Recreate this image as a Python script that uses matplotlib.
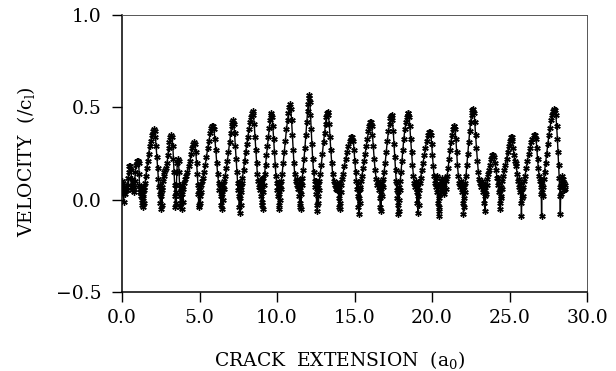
import matplotlib
matplotlib.use("Agg")
import matplotlib.pyplot as plt

# ---- data: crack extension (a0) vs velocity (/c_l) ----
seg00 = [(0.00,0.10),(0.02,0.07),(0.04,0.09),(0.06,0.03),(0.08,0.06),(0.10,-0.01),(0.13,0.04),(0.16,0.06),
         (0.20,0.03),(0.24,0.05),(0.28,0.07),(0.32,0.05),(0.36,0.08),(0.40,0.12),(0.44,0.15),(0.48,0.18),
         (0.53,0.18),(0.58,0.16),(0.62,0.11),(0.64,0.07),(0.66,0.05),(0.69,0.09),(0.72,0.06),(0.75,0.04),
         (0.78,0.07),(0.82,0.10),(0.86,0.15),(0.90,0.19),(0.95,0.21),(1.00,0.21),(1.05,0.21),(1.08,0.20),
         (1.10,0.14),(1.12,0.08),(1.14,0.04),(1.17,0.06),(1.20,0.02),(1.23,0.07),(1.26,0.00),(1.28,0.05),
         (1.30,-0.03),(1.32,0.06),(1.34,0.01),(1.36,-0.04),(1.38,0.03),(1.40,0.07),(1.42,-0.02),(1.45,0.05),
         (1.49,0.09),(1.54,0.13),(1.60,0.17),(1.66,0.21),(1.72,0.25),(1.79,0.29),(1.86,0.32),(1.93,0.35),
         (1.99,0.37),(2.05,0.38)]
seg01 = [(2.10,0.37),(2.15,0.34),(2.20,0.29),(2.25,0.23),(2.30,0.17),(2.35,0.11),(2.40,0.07),(2.44,0.03),
         (2.46,0.08),(2.48,-0.02),(2.50,0.04),(2.52,-0.05),(2.54,0.02),(2.56,0.07),(2.58,-0.03),(2.60,0.05),
         (2.63,0.10),(2.68,0.13),(2.74,0.15),(2.80,0.16),(2.86,0.17),(2.91,0.20),(2.96,0.24),(3.01,0.28),
         (3.06,0.31),(3.11,0.34),(3.18,0.35)]
seg02 = [(3.23,0.34),(3.28,0.29),(3.32,0.22),(3.36,0.15),(3.40,0.08),(3.43,0.02),(3.45,-0.04),(3.47,0.04),
         (3.49,-0.02),(3.51,0.08),(3.54,0.15),(3.57,0.20),(3.61,0.22),(3.65,0.21),(3.68,0.15),(3.71,0.08),
         (3.74,0.02),(3.77,-0.04),(3.80,0.05),(3.82,-0.02),(3.84,0.07),(3.86,-0.05),(3.88,0.03),(3.90,0.08),
         (3.92,-0.01),(3.95,0.06),(3.99,0.09),(4.06,0.11),(4.14,0.13),(4.22,0.15),(4.30,0.18),(4.38,0.21),
         (4.46,0.25),(4.53,0.28),(4.59,0.30),(4.65,0.31)]
seg03 = [(4.71,0.30),(4.76,0.26),(4.81,0.20),(4.86,0.14),(4.90,0.08),(4.93,0.03),(4.95,-0.03),(4.97,0.05),
         (4.99,-0.04),(5.01,0.02),(5.03,0.07),(5.05,-0.02),(5.07,0.04),(5.10,0.08),(5.15,0.10),(5.22,0.12),
         (5.29,0.15),(5.37,0.19),(5.45,0.23),(5.53,0.28),(5.61,0.32),(5.69,0.36),(5.76,0.39),(5.82,0.40),
         (5.87,0.40)]
seg04 = [(5.93,0.38),(5.99,0.33),(6.05,0.27),(6.11,0.20),(6.17,0.14),(6.23,0.09),(6.29,0.05),(6.33,0.08),
         (6.36,0.02),(6.39,-0.03),(6.42,0.05),(6.45,-0.05),(6.48,0.03),(6.50,0.08),(6.53,0.00),(6.56,0.06),
         (6.60,0.10),(6.66,0.13),(6.73,0.17),(6.80,0.21),(6.87,0.26),(6.94,0.31),(7.01,0.36),(7.07,0.40),
         (7.12,0.42),(7.16,0.43)]
seg05 = [(7.21,0.41),(7.26,0.36),(7.31,0.29),(7.36,0.22),(7.41,0.15),(7.46,0.09),(7.50,0.05),(7.53,0.09),
         (7.55,0.02),(7.57,-0.04),(7.59,0.05),(7.61,-0.07),(7.63,0.01),(7.65,0.07),(7.67,-0.03),(7.69,0.04),
         (7.72,0.09),(7.77,0.12),(7.84,0.16),(7.91,0.21),(7.98,0.26),(8.05,0.30),(8.12,0.34),(8.19,0.38),
         (8.26,0.42),(8.32,0.45),(8.38,0.47),(8.43,0.48)]
seg06 = [(8.48,0.46),(8.53,0.41),(8.58,0.34),(8.63,0.27),(8.68,0.20),(8.73,0.14),(8.78,0.10),(8.83,0.07),
         (8.88,0.09),(8.92,0.05),(8.95,0.10),(8.98,0.02),(9.00,-0.03),(9.02,0.06),(9.04,-0.01),(9.06,0.11),
         (9.08,-0.05),(9.10,0.04),(9.12,0.12),(9.15,0.08),(9.20,0.14),(9.26,0.19),(9.32,0.24),(9.38,0.29),
         (9.44,0.34),(9.50,0.39),(9.55,0.43),(9.59,0.46),(9.63,0.47)]
seg07 = [(9.68,0.45),(9.73,0.40),(9.78,0.33),(9.83,0.26),(9.88,0.19),(9.93,0.13),(9.98,0.09),(10.02,0.05),
         (10.05,0.09),(10.08,0.02),(10.10,-0.03),(10.12,0.06),(10.14,-0.05),(10.16,0.03),(10.18,0.08),
         (10.20,0.00),(10.23,0.06),(10.27,0.10),(10.33,0.14),(10.40,0.20),(10.47,0.26),(10.54,0.32),
         (10.61,0.38),(10.68,0.43),(10.74,0.47),(10.79,0.50),(10.84,0.52)]
seg08 = [(10.89,0.49),(10.94,0.43),(10.99,0.35),(11.04,0.27),(11.09,0.20),(11.14,0.14),(11.20,0.10),
         (11.26,0.08),(11.32,0.11),(11.37,0.06),(11.41,0.09),(11.44,0.02),(11.47,-0.04),(11.49,0.05),
         (11.51,-0.02),(11.53,0.10),(11.55,-0.05),(11.57,0.03),(11.60,0.08),(11.63,0.12),(11.68,0.16),
         (11.74,0.22),(11.80,0.28),(11.86,0.35),(11.92,0.42),(11.97,0.48),(12.01,0.52),(12.05,0.55),
         (12.08,0.565)]
seg09 = [(12.12,0.53),(12.16,0.46),(12.20,0.38),(12.25,0.30),(12.30,0.22),(12.36,0.15),(12.42,0.10),
         (12.47,0.07),(12.51,0.10),(12.54,0.03),(12.56,-0.03),(12.58,0.06),(12.60,-0.06),(12.62,0.02),
         (12.64,0.08),(12.66,-0.02),(12.69,0.05),(12.73,0.10),(12.79,0.14),(12.86,0.19),(12.93,0.25),
         (13.00,0.31),(13.07,0.36),(13.13,0.41),(13.18,0.45),(13.23,0.47),(13.27,0.475)]
seg10 = [(13.32,0.46),(13.37,0.41),(13.42,0.34),(13.47,0.27),(13.53,0.20),(13.59,0.14),(13.65,0.10),
         (13.72,0.08),(13.79,0.06),(13.85,0.09),(13.90,0.05),(13.94,0.08),(13.97,0.01),(14.00,-0.04),
         (14.02,0.06),(14.04,-0.02),(14.06,0.09),(14.08,-0.05),(14.10,0.04),(14.13,0.08),(14.17,0.11),
         (14.25,0.14),(14.34,0.18),(14.43,0.22),(14.52,0.26),(14.61,0.29),(14.69,0.32),(14.77,0.34),
         (14.86,0.34)]
seg11 = [(14.92,0.32),(14.97,0.27),(15.02,0.21),(15.07,0.15),(15.12,0.10),(15.16,0.06),(15.20,0.09),
         (15.23,0.02),(15.25,-0.04),(15.27,0.05),(15.29,-0.08),(15.31,0.01),(15.33,0.07),(15.35,-0.02),
         (15.38,0.06),(15.42,0.10),(15.48,0.13),(15.55,0.17),(15.62,0.21),(15.69,0.25),(15.76,0.29),
         (15.83,0.33),(15.90,0.37),(15.96,0.40),(16.01,0.42),(16.06,0.42)]
seg12 = [(16.11,0.40),(16.16,0.35),(16.21,0.29),(16.27,0.22),(16.33,0.16),(16.40,0.11),(16.47,0.08),
         (16.53,0.10),(16.58,0.05),(16.62,0.08),(16.65,0.01),(16.67,-0.04),(16.69,0.06),(16.71,-0.06),
         (16.73,0.03),(16.75,0.09),(16.78,0.02),(16.81,0.07),(16.85,0.11),(16.91,0.15),(16.98,0.20),
         (17.05,0.26),(17.12,0.32),(17.19,0.37),(17.26,0.41),(17.32,0.44),(17.37,0.455),(17.40,0.456)]
seg13 = [(17.45,0.43),(17.50,0.37),(17.55,0.30),(17.60,0.23),(17.65,0.16),(17.69,0.10),(17.72,0.05),
         (17.74,0.09),(17.76,0.01),(17.78,-0.08),(17.80,-0.03),(17.82,0.04),(17.84,-0.06),(17.86,0.07),
         (17.88,0.00),(17.91,0.05),(17.95,0.10),(18.00,0.15),(18.06,0.21),(18.12,0.27),(18.18,0.33),
         (18.25,0.38),(18.32,0.42),(18.38,0.45),(18.43,0.47),(18.47,0.47)]
seg14 = [(18.52,0.45),(18.57,0.40),(18.62,0.33),(18.68,0.26),(18.74,0.19),(18.80,0.13),(18.86,0.09),
         (18.92,0.07),(18.97,0.10),(19.01,0.04),(19.04,-0.02),(19.06,0.06),(19.08,-0.07),(19.10,0.02),
         (19.12,0.09),(19.14,-0.03),(19.17,0.05),(19.21,0.09),(19.27,0.12),(19.34,0.16),(19.42,0.20),
         (19.50,0.24),(19.58,0.28),(19.66,0.32),(19.73,0.35),(19.80,0.366),(19.87,0.366)]
seg15 = [(19.93,0.35),(19.98,0.30),(20.03,0.24),(20.08,0.18),(20.13,0.13),(20.18,0.09),(20.23,0.12),
         (20.27,0.07),(20.31,0.13),(20.34,0.04),(20.37,-0.02),(20.40,0.08),(20.42,-0.06),(20.44,0.01),
         (20.46,-0.09),(20.48,-0.04),(20.51,0.03),(20.55,0.10),(20.60,0.06),(20.64,0.12),(20.68,0.05),
         (20.72,0.09),(20.76,0.03),(20.80,0.07),(20.84,0.11),(20.89,0.06),(20.93,0.10),(20.98,0.13),
         (21.04,0.17),(21.10,0.22),(21.16,0.27),(21.22,0.31),(21.28,0.35),(21.34,0.38),(21.39,0.40),
         (21.44,0.40)]
seg16 = [(21.49,0.38),(21.54,0.33),(21.59,0.26),(21.64,0.19),(21.70,0.13),(21.76,0.09),(21.82,0.07),
         (21.87,0.10),(21.92,0.04),(21.96,0.08),(21.99,-0.02),(22.01,0.05),(22.03,-0.08),(22.05,0.01),
         (22.07,0.07),(22.09,-0.04),(22.11,0.04),(22.14,0.09),(22.19,0.13),(22.25,0.19),(22.31,0.25),
         (22.37,0.31),(22.43,0.37),(22.49,0.42),(22.55,0.46),(22.61,0.485),(22.66,0.49)]
seg17 = [(22.71,0.47),(22.76,0.42),(22.81,0.35),(22.87,0.28),(22.93,0.21),(22.99,0.15),(23.05,0.11),
         (23.12,0.09),(23.19,0.07),(23.25,0.10),(23.30,0.04),(23.34,0.08),(23.37,-0.02),(23.39,0.05),
         (23.41,-0.06),(23.43,0.02),(23.45,0.08),(23.48,0.03),(23.52,0.08),(23.57,0.11),(23.63,0.14),
         (23.69,0.16),(23.75,0.19),(23.81,0.22),(23.88,0.24),(23.95,0.24)]
seg18 = [(24.01,0.23),(24.07,0.20),(24.13,0.16),(24.19,0.12),(24.24,0.08),(24.28,0.12),(24.31,0.04),
         (24.34,0.09),(24.36,-0.02),(24.38,0.05),(24.40,-0.05),(24.42,0.02),(24.44,0.07),(24.47,0.01),
         (24.50,0.06),(24.54,0.10),(24.60,0.13),(24.67,0.16),(24.74,0.19),(24.81,0.22),(24.88,0.26),
         (24.95,0.29),(25.02,0.32),(25.08,0.34),(25.14,0.34)]
seg19 = [(25.19,0.32),(25.24,0.28),(25.29,0.24),(25.34,0.21),(25.39,0.20),(25.44,0.18),(25.49,0.14),
         (25.54,0.10),(25.59,0.07),(25.64,0.11),(25.68,0.04),(25.71,0.09),(25.73,-0.02),(25.75,0.05),
         (25.77,-0.09),(25.79,0.01),(25.81,0.06),(25.84,0.02),(25.88,0.07),(25.93,0.10),(26.00,0.13),
         (26.08,0.17),(26.16,0.21),(26.24,0.25),(26.32,0.28),(26.40,0.31),(26.48,0.33),(26.56,0.35),
         (26.65,0.35)]
seg20 = [(26.71,0.33),(26.76,0.28),(26.81,0.22),(26.86,0.17),(26.91,0.13),(26.96,0.10),(27.00,0.07),
         (27.03,0.10),(27.05,0.03),(27.07,-0.09),(27.09,0.04),(27.11,0.08),(27.13,0.02),(27.16,0.07),
         (27.20,0.11),(27.26,0.15),(27.33,0.20),(27.40,0.25),(27.47,0.30),(27.54,0.35),(27.61,0.39),
         (27.68,0.43),(27.75,0.46),(27.82,0.48),(27.88,0.49),(27.94,0.485)]
seg21 = [(27.99,0.46),(28.04,0.40),(28.09,0.33),(28.13,0.26),(28.17,0.19),(28.21,0.12),(28.24,0.07),
         (28.26,0.02),(28.28,-0.08),(28.30,0.03),(28.32,0.08),(28.35,0.12),(28.38,0.09),(28.41,0.13),
         (28.44,0.07),(28.47,0.11),(28.50,0.05),(28.53,0.09),(28.56,0.06),(28.59,0.08)]

segments = [seg00, seg01, seg02, seg03, seg04, seg05, seg06, seg07, seg08, seg09, seg10,
            seg11, seg12, seg13, seg14, seg15, seg16, seg17, seg18, seg19, seg20, seg21]

x_ticks = [0.0, 5.0, 10.0, 15.0, 20.0, 25.0, 30.0]
y_ticks = [-0.5, 0.0, 0.5, 1.0]
x_label = r"CRACK  EXTENSION  (a$_0$)"
y_label = r"VELOCITY  (/c$_\mathrm{l}$)"

# ---- plotting ----
plt.rcParams["font.family"] = ["DejaVu Serif"]
plt.rcParams["mathtext.fontset"] = "dejavuserif"

ext = [p[0] for s in segments for p in s]
vel = [p[1] for s in segments for p in s]

fig = plt.figure(figsize=(6.16, 3.71), dpi=100)
ax = fig.add_axes([122/616, 1 - 292/371, (587 - 122)/616, (292 - 15)/371])

ax.plot(ext, vel, color="black", lw=1.0, marker=(6, 2, 0), ms=4.6, mew=1.0)

ax.set_xlim(0, 30)
ax.set_ylim(-0.5, 1.0)
ax.set_xticks(x_ticks)
ax.set_yticks(y_ticks)
ax.set_xticklabels([f"{v:.1f}" for v in x_ticks])
ax.set_yticklabels([f"{v:.1f}".replace("-", "\u2212") for v in y_ticks])
ax.tick_params(direction="out", length=7, width=1.0, labelsize=13.5,
               top=False, right=False, colors="black")
ax.tick_params(axis="x", pad=5)
ax.tick_params(axis="y", pad=8)

for side in ("left", "bottom"):
    ax.spines[side].set_linewidth(1.1)
for side in ("top", "right"):
    ax.spines[side].set_linewidth(0.7)
    ax.spines[side].set_color("#555555")

ax.set_xlabel(x_label, fontsize=13.5)
ax.set_ylabel(y_label, fontsize=13.5)
ax.xaxis.set_label_coords(0.468, -0.205)
ax.yaxis.set_label_coords(-0.183, 0.47)

fig.savefig("out.png", dpi=100)
